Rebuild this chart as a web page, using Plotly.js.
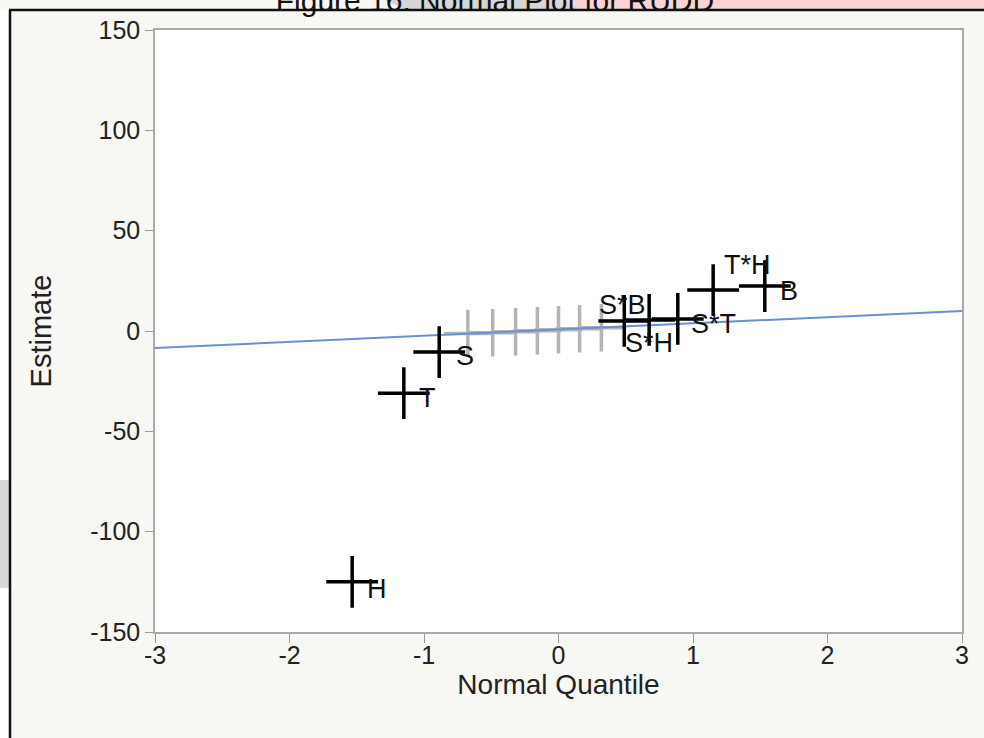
<!DOCTYPE html>
<html>
<head>
<meta charset="utf-8">
<script src="https://cdn.plot.ly/plotly-3.0.1.min.js"></script>
<style>
  html, body { margin: 0; padding: 0; background: #f7f7f4; }
  #chart { width: 984px; height: 738px; }
</style>
</head>
<body>
<div id="chart"></div>
<script>
// ---- data ----
const effects = ["H", "T", "S", "S*B", "S*H", "S*T", "T*H", "B"];
const quantiles = [-1.534, -1.150, -0.887, 0.489, 0.674, 0.887, 1.150, 1.534];
const estimates = [-125, -31, -10.5, 5, 5.5, 6, 20.4, 22.4];

const otherEffects = ["T*B", "H*B", "S*T*H", "S*T*B", "S*H*B", "T*H*B", "S*T*H*B"];
const otherQuantiles = [-0.674, -0.489, -0.319, -0.157, 0, 0.157, 0.319];
const otherEstimates = [-1.3, -0.9, -0.4, 0.1, 0.6, 1.1, 1.6];

const lineX = [-3, 3];
const lineY = [-8.5, 10];

const xTicks = [-3, -2, -1, 0, 1, 2, 3];
const yTicks = [-150, -100, -50, 0, 50, 100, 150];

// label offsets in pixels (dx right, dy down)
const labelDx = [25, 24, 26, -2, 0, 36, 34, 24];
const labelDy = [7, 5, 4, -16, 23, 5, -25, 5];

const traces = [
  {
    x: otherQuantiles, y: otherEstimates, text: otherEffects, mode: "markers", type: "scatter",
    marker: { symbol: "cross-thin-open", size: 34, color: "#b4b4b4", line: { color: "#b4b4b4", width: 3.5 } },
    showlegend: false
  },
  {
    x: lineX, y: lineY, mode: "lines", type: "scatter",
    line: { color: "#6b8fd6", width: 2 }, hoverinfo: "skip", showlegend: false
  },
  {
    x: quantiles, y: estimates, text: effects, mode: "markers", type: "scatter",
    marker: { symbol: "cross-thin-open", size: 37, color: "#000000", line: { color: "#000000", width: 3.5 } },
    showlegend: false
  }
];

const annotations = effects.map((e, i) => ({
  x: quantiles[i], y: estimates[i], xref: "x", yref: "y",
  text: e, showarrow: false, xanchor: "center", yanchor: "middle",
  xshift: labelDx[i], yshift: -labelDy[i],
  font: { family: "Liberation Sans, Arial, sans-serif", size: 27, color: "#111" }
}));

// plot area in pixels: x 155..962, y 30..632
const px = v => (v - 155) / 807;
const py = v => (632 - v) / 602;

const shapes = [
  // watermark hints at top
  { type: "path", xref: "paper", yref: "paper", layer: "below",
    path: `M ${px(385)} ${py(0)} L ${px(700)} ${py(0)} L ${px(700)} ${py(10)} L ${px(405)} ${py(10)} Z`,
    fillcolor: "#d6d6d6", line: { width: 0 } },
  { type: "path", xref: "paper", yref: "paper", layer: "below",
    path: `M ${px(560)} ${py(0)} L ${px(984)} ${py(0)} L ${px(984)} ${py(10)} L ${px(585)} ${py(10)} Z`,
    fillcolor: "#fbd3d3", line: { width: 0 } },
  { type: "rect", xref: "paper", yref: "paper", layer: "below",
    x0: px(0), x1: px(9), y0: py(588), y1: py(480),
    fillcolor: "#d8d8d8", line: { width: 0 } },
  { type: "rect", xref: "paper", yref: "paper", layer: "below",
    x0: px(0), x1: px(9), y0: py(738), y1: py(588),
    fillcolor: "#ffffff", line: { width: 0 } },
  { type: "rect", xref: "paper", yref: "paper", layer: "below",
    x0: px(0), x1: px(9), y0: py(480), y1: py(10),
    fillcolor: "#ffffff", line: { width: 0 } },
  // black frame (left and top)
  { type: "line", xref: "paper", yref: "paper", layer: "above",
    x0: px(10), x1: px(10), y0: py(10), y1: py(740), line: { color: "#111", width: 2.5 } },
  { type: "line", xref: "paper", yref: "paper", layer: "above",
    x0: px(9), x1: px(986), y0: py(10), y1: py(10), line: { color: "#111", width: 2.5 } }
];

const layout = {
  width: 984, height: 738,
  paper_bgcolor: "#f7f7f4",
  plot_bgcolor: "#ffffff",
  margin: { l: 155, r: 22, t: 30, b: 106 },
  font: { family: "Liberation Sans, Arial, sans-serif", color: "#222" },
  title: {
    text: "Figure 16: Normal Plot for RUDD",
    x: 0.503, xanchor: "center", y: 1, yref: "container", yanchor: "middle",
    font: { size: 30, color: "#111", family: "Liberation Sans, Arial, sans-serif" }
  },
  xaxis: {
    range: [-3, 3], tickvals: xTicks, ticktext: xTicks.map(String),
    ticks: "outside", ticklen: 9, tickwidth: 1, tickcolor: "#999",
    ticklabelstandoff: -9,
    showline: true, linecolor: "#aaaaaa", linewidth: 1.5, mirror: true,
    showgrid: false, zeroline: false,
    tickfont: { size: 25, color: "#222" },
    title: { text: "Normal Quantile", font: { size: 28, color: "#222" }, standoff: 0 }
  },
  yaxis: {
    range: [-150, 150], tickvals: yTicks, ticktext: yTicks.map(String),
    ticks: "outside", ticklen: 8, tickwidth: 1, tickcolor: "#999",
    showline: true, linecolor: "#aaaaaa", linewidth: 1.5, mirror: true,
    showgrid: false, zeroline: false,
    tickfont: { size: 25, color: "#222" },
    title: { text: "Estimate", font: { size: 29, color: "#222" }, standoff: 30 }
  },
  annotations: annotations,
  shapes: shapes,
  showlegend: false
};

Plotly.newPlot("chart", traces, layout, { displayModeBar: false, responsive: false });
</script>
</body>
</html>
